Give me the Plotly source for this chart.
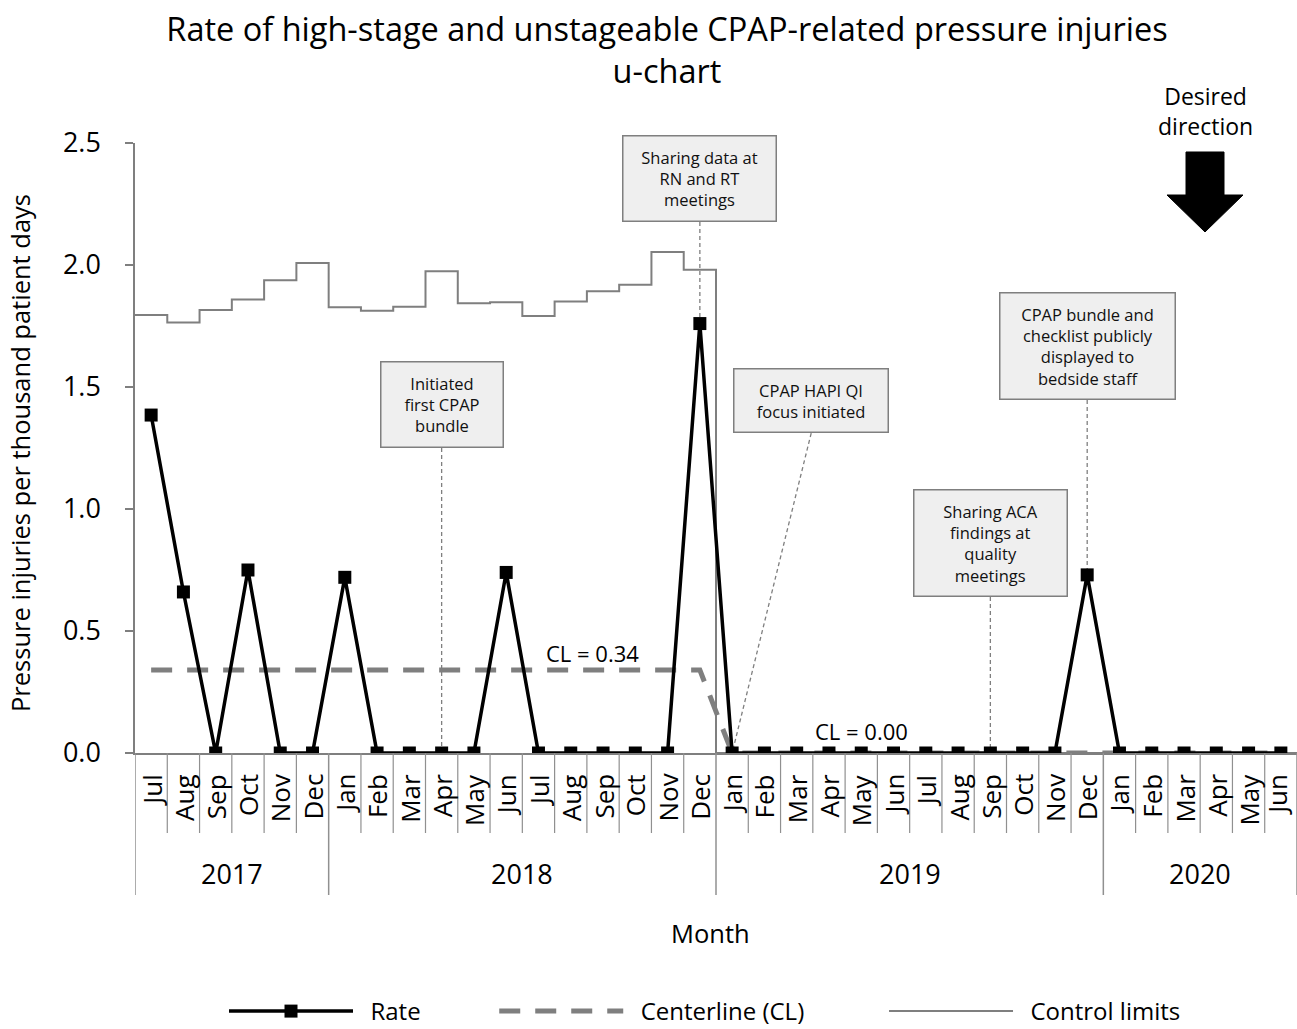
import plotly.graph_objects as go

# ---------------- data ----------------
months = ["Jul", "Aug", "Sep", "Oct", "Nov", "Dec",
          "Jan", "Feb", "Mar", "Apr", "May", "Jun", "Jul", "Aug", "Sep", "Oct", "Nov", "Dec",
          "Jan", "Feb", "Mar", "Apr", "May", "Jun", "Jul", "Aug", "Sep", "Oct", "Nov", "Dec",
          "Jan", "Feb", "Mar", "Apr", "May", "Jun"]
years = ["2017"] * 6 + ["2018"] * 12 + ["2019"] * 12 + ["2020"] * 6

rate = [1.385, 0.66, 0.0, 0.75, 0.0, 0.0,
        0.72, 0.0, 0.0, 0.0, 0.0, 0.74, 0.0, 0.0, 0.0, 0.0, 0.0, 1.76,
        0.0, 0.0, 0.0, 0.0, 0.0, 0.0, 0.0, 0.0, 0.0, 0.0, 0.0, 0.73,
        0.0, 0.0, 0.0, 0.0, 0.0, 0.0]
centerline = [0.34, 0.34, 0.34, 0.34, 0.34, 0.34,
              0.34, 0.34, 0.34, 0.34, 0.34, 0.34, 0.34, 0.34, 0.34, 0.34, 0.34, 0.34,
              0.0, 0.0, 0.0, 0.0, 0.0, 0.0, 0.0, 0.0, 0.0, 0.0, 0.0, 0.0,
              0.0, 0.0, 0.0, 0.0, 0.0, 0.0]
control_limit = [1.795, 1.764, 1.816, 1.859, 1.937, 2.008,
                 1.827, 1.813, 1.829, 1.974, 1.843, 1.847, 1.791, 1.850, 1.892, 1.919, 2.053, 1.981,
                 0.0, 0.0, 0.0, 0.0, 0.0, 0.0, 0.0, 0.0, 0.0, 0.0, 0.0, 0.0,
                 0.0, 0.0, 0.0, 0.0, 0.0, 0.0]
cl_labels = ["CL = 0.34", "CL = 0.00"]

callout_texts = ["Initiated<br>first CPAP<br>bundle",
                 "Sharing data at<br>RN and RT<br>meetings",
                 "CPAP HAPI QI<br>focus initiated",
                 "Sharing ACA<br>findings at<br>quality<br>meetings",
                 "CPAP bundle and<br>checklist publicly<br>displayed to<br>bedside staff"]
callout_month = [9, 17, 18, 26, 29]          # month index the callout points to

# ---------------- layout helpers ----------------
FONT = "Open Sans, sans-serif"
W, H = 1297, 1029
ML, MR, MT, MB = 135, 0, 143, 276
PW, PH = W - ML - MR, H - MT - MB


def py(p):   # pixel row -> paper y
    return (H - MB - p) / PH


def px(p):   # pixel column -> paper x
    return (p - ML) / PW


x = list(range(len(months)))
GRAY = "#7f7f7f"
NB = "\u00a0"

fig = go.Figure()

# control limits (step, spanning each month)
ucl_x = [i - 0.5 for i in x] + [x[-1] + 0.5]
ucl_y = control_limit + [control_limit[-1]]
fig.add_trace(go.Scatter(x=ucl_x, y=ucl_y, mode="lines", line_shape="hv",
                         line=dict(color=GRAY, width=2), name=NB * 2 + "Control limits",
                         legendrank=3))
# centerline
fig.add_trace(go.Scatter(x=x, y=centerline, mode="lines",
                         line=dict(color=GRAY, width=5, dash="21px,15px"),
                         name=NB * 2 + "Centerline (CL)" + NB * 12, legendrank=2))
# rate
fig.add_trace(go.Scatter(x=x, y=rate, mode="lines+markers",
                         line=dict(color="black", width=3.5),
                         marker=dict(symbol="square", size=13, color="black"),
                         name=NB * 2 + "Rate" + NB * 11, legendrank=1))

shapes = []
annotations = []

# callouts: connectors + boxes
box_x = [9, 17, 20.45, 26, 29]
box_bottom = [1.25, 2.176, 1.311, 0.639, 1.447]
box_w = [124, 155, 156, 155, 177]
PAD = 9
for t, mi, bx, bb, bw in zip(callout_texts, callout_month, box_x, box_bottom, box_w):
    shapes.append(dict(type="line", xref="x", yref="y", x0=bx, y0=bb, x1=mi, y1=rate[mi],
                       line=dict(color=GRAY, width=1.3, dash="4px,3px"), layer="below"))
    annotations.append(dict(x=bx, y=bb, xref="x", yref="y", xanchor="center", yanchor="bottom",
                            text=t, showarrow=False, align="center",
                            font=dict(family=FONT, size=16.5, color="#111"),
                            bgcolor="#efefef", bordercolor=GRAY, borderwidth=1.5,
                            borderpad=PAD, width=bw - 2 * PAD - 3))

# CL labels
annotations.append(dict(x=13.66, y=centerline[0], xref="x", yref="y", yanchor="bottom",
                        xanchor="center", yshift=0, text=cl_labels[0], showarrow=False,
                        font=dict(family=FONT, size=22, color="black")))
annotations.append(dict(x=22.0, y=centerline[-1], xref="x", yref="y", yanchor="bottom",
                        xanchor="center", yshift=5, text=cl_labels[1], showarrow=False,
                        font=dict(family=FONT, size=22, color="black")))

# month labels
for i, m in enumerate(months):
    annotations.append(dict(x=i, y=py(773), xref="x", yref="paper", text=m, textangle=-90,
                            xanchor="center", yanchor="top", showarrow=False, borderpad=0,
                            xshift=-4 if i == len(months) - 1 else 0,
                            font=dict(family=FONT, size=26, color="black")))
# month dividers and year dividers
for i in range(len(months) + 1):
    xe = i - 0.5
    new_year = i == 0 or i == len(months) or years[i] != years[i - 1]
    shapes.append(dict(type="line", xref="x", yref="paper", x0=xe, x1=xe, y0=0,
                       y1=py(895) if new_year else py(833),
                       line=dict(color="#909090", width=1.5 if new_year else 1.2)))
# year labels
ulist = []
for yv in years:
    if yv not in ulist:
        ulist.append(yv)
for yv in ulist:
    idx = [i for i, v in enumerate(years) if v == yv]
    annotations.append(dict(x=(idx[0] + idx[-1]) / 2, y=py(873), xref="x", yref="paper",
                            text=yv, showarrow=False, xanchor="center", yanchor="middle",
                            font=dict(family=FONT, size=27, color="black")))

# axis titles
annotations.append(dict(x=px(20), y=py(453), xref="paper", yref="paper", textangle=-90,
                        text="Pressure injuries per thousand patient days", showarrow=False,
                        xanchor="center", yanchor="middle",
                        font=dict(family=FONT, size=25.5, color="black")))
annotations.append(dict(x=px(710), y=py(933), xref="paper", yref="paper", text="Month",
                        showarrow=False, xanchor="center", yanchor="middle",
                        font=dict(family=FONT, size=25.5, color="black")))

# desired direction
annotations.append(dict(x=px(1205), y=py(111), xref="paper", yref="paper",
                        text="Desired<br>direction", showarrow=False,
                        xanchor="center", yanchor="middle",
                        font=dict(family=FONT, size=23, color="black")))
arrow_pts = [(1186, 152), (1224, 152), (1224, 195), (1243, 195), (1205, 232),
             (1167, 195), (1186, 195)]
path = "M " + " L ".join(f"{px(a):.5f},{py(b):.5f}" for a, b in arrow_pts) + " Z"
shapes.append(dict(type="path", xref="paper", yref="paper", path=path,
                   fillcolor="black", line=dict(color="black", width=1)))

fig.update_layout(
    width=W, height=H,
    margin=dict(l=ML, r=MR, t=MT, b=MB, autoexpand=False),
    paper_bgcolor="white", plot_bgcolor="white",
    font=dict(family=FONT, color="black"),
    title=dict(text="Rate of high-stage and unstageable CPAP-related pressure injuries<br>u-chart",
               x=667 / W, xref="container", xanchor="center",
               y=1 - 41 / H, yref="container", yanchor="top",
               font=dict(family=FONT, size=32.5, color="black")),
    xaxis=dict(range=[-0.5, len(months) - 0.5], showticklabels=False, ticks="",
               showgrid=False, zeroline=False, showline=True, linecolor=GRAY, linewidth=1.5),
    yaxis=dict(range=[0, 2.5], dtick=0.5, tick0=0, tickformat=".1f", ticks="outside",
               ticklen=8, tickcolor=GRAY, tickwidth=1.5, showgrid=False, zeroline=False,
               showline=True, linecolor=GRAY, linewidth=1.5, ticklabelstandoff=19,
               tickfont=dict(family=FONT, size=27, color="black")),
    showlegend=True,
    legend=dict(orientation="h", x=px(224), xanchor="left", y=py(989), yanchor="top",
                itemwidth=124, font=dict(family=FONT, size=24, color="black"),
                traceorder="normal", bgcolor="rgba(0,0,0,0)"),
    shapes=shapes, annotations=annotations,
)

fig.write_html("out.html", config={"displayModeBar": False},
               post_script="document.body.style.margin='0';")
